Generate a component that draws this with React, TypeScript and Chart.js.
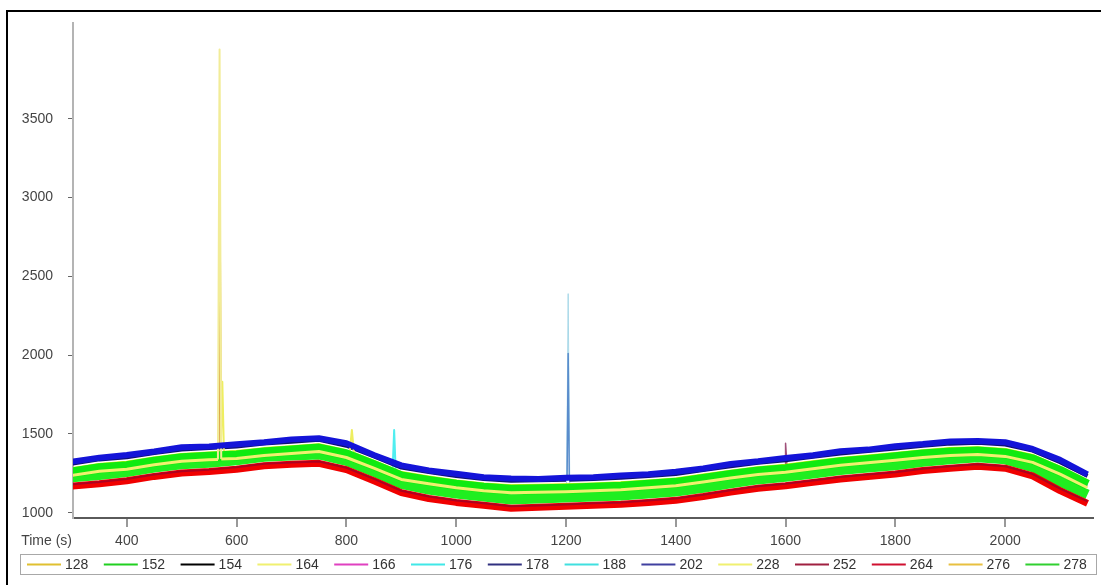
import React, { useEffect, useRef } from "react";
import { Chart, registerables } from "chart.js";

Chart.register(...registerables);

// ---------- data ----------
const TIME = [
  300, 350, 400, 450, 500, 550, 600, 650, 700, 750, 800, 850, 900, 950, 1000, 1050, 1100, 1150, 1200,
  1250, 1300, 1350, 1400, 1450, 1500, 1550, 1600, 1650, 1700, 1750, 1800, 1850, 1900, 1950, 2000,
  2050, 2100, 2150,
];

const S202 = [1323, 1348, 1366, 1388, 1415, 1420, 1434, 1447, 1465, 1472, 1440, 1366, 1300, 1268, 1247, 1224, 1216, 1214, 1222, 1224, 1236, 1243, 1259, 1280, 1309, 1326, 1347, 1364, 1390, 1400, 1422, 1435, 1452, 1454, 1447, 1404, 1335, 1243];
const S178 = [1311, 1338, 1351, 1379, 1401, 1410, 1419, 1438, 1450, 1463, 1425, 1357, 1286, 1258, 1233, 1214, 1202, 1205, 1208, 1214, 1221, 1233, 1245, 1270, 1295, 1317, 1332, 1354, 1376, 1391, 1407, 1425, 1438, 1444, 1432, 1394, 1320, 1233];
const S228 = [1273, 1300, 1313, 1341, 1363, 1372, 1381, 1400, 1412, 1425, 1387, 1319, 1248, 1220, 1195, 1176, 1164, 1167, 1170, 1176, 1183, 1195, 1207, 1232, 1257, 1279, 1294, 1316, 1338, 1353, 1369, 1387, 1400, 1406, 1394, 1356, 1282, 1195];
const S152 = [1255, 1282, 1295, 1323, 1345, 1354, 1363, 1382, 1394, 1407, 1369, 1301, 1230, 1202, 1177, 1158, 1146, 1149, 1152, 1158, 1165, 1177, 1189, 1214, 1239, 1261, 1276, 1298, 1320, 1335, 1351, 1369, 1382, 1388, 1376, 1338, 1264, 1177];
const S164 = [1236, 1263, 1276, 1304, 1326, 1335, 1344, 1363, 1375, 1388, 1350, 1282, 1211, 1183, 1158, 1139, 1127, 1130, 1133, 1139, 1146, 1158, 1170, 1195, 1220, 1242, 1257, 1279, 1301, 1316, 1332, 1350, 1363, 1369, 1357, 1319, 1245, 1158];
const S278 = [1224, 1239, 1258, 1286, 1307, 1317, 1332, 1354, 1363, 1369, 1329, 1258, 1183, 1146, 1121, 1103, 1084, 1090, 1096, 1103, 1109, 1121, 1134, 1158, 1186, 1211, 1227, 1248, 1270, 1286, 1301, 1323, 1338, 1351, 1338, 1289, 1196, 1115];
const S252 = [1180, 1195, 1214, 1242, 1263, 1273, 1288, 1310, 1319, 1325, 1285, 1214, 1139, 1102, 1077, 1059, 1040, 1046, 1052, 1059, 1065, 1077, 1090, 1114, 1142, 1167, 1183, 1204, 1226, 1242, 1257, 1279, 1294, 1307, 1294, 1245, 1152, 1071];
const S264 = [1168, 1183, 1202, 1230, 1251, 1261, 1276, 1298, 1307, 1313, 1273, 1202, 1127, 1090, 1065, 1047, 1028, 1034, 1040, 1047, 1053, 1065, 1078, 1102, 1130, 1155, 1171, 1192, 1214, 1230, 1245, 1267, 1282, 1295, 1282, 1233, 1140, 1059];
const BAND_MID = S152;

// short spikes: [time, value]
const SPIKE_164 = [[566, 1338], [569, 3940], [572, 1340]];
const SPIKE_128 = [[568, 1358], [570, 2800], [572, 1358]];
const SPIKE_228 = [[571, 1376], [574, 1830], [577, 1377], [806, 1379], [810, 1525], [814, 1368]];
const SPIKE_176 = [[884, 1253], [887, 1525], [890, 1244]];
const SPIKE_188 = [[1201, 1152], [1204, 2390], [1207, 1152]];
const SPIKE_178 = [[1202, 1208], [1204, 2010], [1206, 1208]];
const SPIKE_166 = [[1597, 1276], [1600, 1440], [1603, 1276]];

const SERIES_IDS = ["128", "152", "154", "164", "166", "176", "178", "188", "202", "228", "252", "264", "276", "278"];
const LEGEND_COLORS = ["#e0c030", "#20d020", "#000000", "#f0f070", "#e040c0", "#40e8e8", "#303080", "#40e0e0", "#4040a0", "#f0f070", "#a02040", "#d01030", "#e8c040", "#30d030"];

const X_TICKS = [400, 600, 800, 1000, 1200, 1400, 1600, 1800, 2000];
const Y_TICKS = [1000, 1500, 2000, 2500, 3000, 3500];
const X_TITLE = "Time (s)";

const FONT = "'Liberation Sans', Arial, sans-serif";
const FS = 14;

function pts(vals: number[], extra: number[][] = []) {
  const p = TIME.map((t, i) => ({ x: t, y: vals[i] }));
  for (const [x, y] of extra) p.push({ x, y });
  p.sort((a, b) => a.x - b.x);
  return p;
}

const decor = {
  id: "decor",
  afterDraw(chart: any) {
    const ctx = chart.ctx;
    const W = chart.width;
    const H = chart.height;
    ctx.save();
    // outer frame
    ctx.fillStyle = "#000";
    ctx.fillRect(6, 10, 2, H - 10);
    ctx.fillRect(6, 10, W - 6, 2);

    // axis title at left of tick labels
    ctx.fillStyle = "#444";
    ctx.font = FS + "px " + FONT;
    ctx.textAlign = "right";
    ctx.textBaseline = "middle";
    ctx.fillText(X_TITLE, chart.chartArea.left - 1, chart.chartArea.bottom + 23);

    // legend
    const top = H - 31;
    ctx.fillStyle = "#fff";
    ctx.fillRect(20, top, W - 24, 20);
    ctx.strokeStyle = "#a8a8a8";
    ctx.lineWidth = 1;
    ctx.strokeRect(20.5, top + 0.5, W - 25, 20);
    const cy = top + 10.5;
    const step = 76.8;
    SERIES_IDS.forEach((id, i) => {
      const x0 = 27 + i * step;
      ctx.strokeStyle = LEGEND_COLORS[i];
      ctx.lineWidth = 2;
      ctx.beginPath();
      ctx.moveTo(x0, cy);
      ctx.lineTo(x0 + 34, cy);
      ctx.stroke();
      ctx.fillStyle = "#333";
      ctx.textAlign = "left";
      ctx.fillText(id, x0 + 38, cy + 0.5);
    });
    ctx.restore();
  },
};

export default function App() {
  const ref = useRef<HTMLCanvasElement | null>(null);

  useEffect(() => {
    document.body.style.margin = "0";
    const canvas = ref.current;
    if (!canvas) return;

    const mk = (
      label: string,
      vals: number[],
      color: string,
      width: number,
      order: number,
      extra: number[][] = [],
      spikeWidth = 2,
      spikeColor?: string
    ) => ({
      label,
      data: pts(vals, extra),
      borderColor: color,
      backgroundColor: color,
      borderWidth: width,
      order,
      pointRadius: 0,
      tension: 0,
      fill: false,
      borderJoinStyle: "round" as const,
      segment: {
        borderWidth: (c: any) => (c.p1.parsed.x - c.p0.parsed.x < 10 ? spikeWidth : undefined),
        borderColor: (c: any) => (spikeColor && c.p1.parsed.x - c.p0.parsed.x < 10 ? spikeColor : undefined),
      },
    });

    const datasets = [
      mk(SERIES_IDS[0], BAND_MID, "#dcb830", 2, 12, SPIKE_128, 1.5, "#d8a040"),
      mk(SERIES_IDS[1], S152, "#10ea10", 10, 4),
      mk(SERIES_IDS[2], BAND_MID, "#000000", 1, 14),
      mk(SERIES_IDS[3], S164, "#f0f070", 3, 3, SPIKE_164, 2, "#f2ec98"),
      mk(SERIES_IDS[4], BAND_MID, "#e030d0", 1.5, 11, SPIKE_166, 1.5, "#a0507a"),
      mk(SERIES_IDS[5], BAND_MID, "#30e8e8", 2, 9, SPIKE_176, 2, "#50eef0"),
      mk(SERIES_IDS[6], S178, "#101070", 4, 8, SPIKE_178, 1.5, "#5a8ccc"),
      mk(SERIES_IDS[7], BAND_MID, "#70e0f0", 1, 10, SPIKE_188, 1, "#a8d8e8"),
      mk(SERIES_IDS[8], S202, "#1414d8", 6, 1),
      mk(SERIES_IDS[9], S228, "#e4f000", 5, 6, SPIKE_228, 2, "#eeee60"),
      mk(SERIES_IDS[10], S252, "#b00020", 2, 2),
      mk(SERIES_IDS[11], S264, "#f00000", 7, 2.5),
      mk(SERIES_IDS[12], BAND_MID, "#e8b800", 2, 13),
      mk(SERIES_IDS[13], S278, "#20ee20", 10, 5),
    ];

    const chart = new Chart(canvas, {
      type: "line",
      data: { datasets: datasets as any },
      plugins: [decor],
      options: {
        animation: false,
        responsive: false,
        devicePixelRatio: 1,
        layout: { padding: { left: 0, right: 8, top: 12, bottom: 37 } },
        font: { family: FONT, size: FS },
        plugins: {
          tooltip: { enabled: false },
          legend: { display: false },
        },
        scales: {
          x: {
            type: "linear",
            min: 302,
            max: 2160,
            afterFit: (s: any) => { s.height = 30; },
            afterBuildTicks: (s: any) => { s.ticks = X_TICKS.map((v) => ({ value: v })); },
            ticks: {
              color: "#444",
              padding: 6,
              font: { family: FONT, size: FS },
              callback: (v: any) => String(v),
              maxRotation: 0,
              autoSkip: false,
            },
            grid: { drawOnChartArea: false, drawTicks: true, tickLength: 9, color: "#999", lineWidth: 2 },
            border: { display: true, color: "#5a5a5a", width: 2 },
          },
          y: {
            type: "linear",
            min: 966,
            max: 4105,
            afterFit: (s: any) => { s.width = 73; },
            afterBuildTicks: (s: any) => { s.ticks = Y_TICKS.map((v) => ({ value: v })); },
            ticks: {
              color: "#444",
              padding: 15,
              font: { family: FONT, size: FS },
              callback: (v: any) => String(v),
              autoSkip: false,
            },
            grid: { drawOnChartArea: false, drawTicks: true, tickLength: 5, color: "#666", lineWidth: 1 },
            border: { display: true, color: "#b4b4b4", width: 2 },
          },
        },
      } as any,
    });

    return () => chart.destroy();
  }, []);

  return (
    <div style={{ width: 1101, height: 585, background: "#fff" }}>
      <canvas ref={ref} width={1101} height={585} style={{ display: "block" }} />
    </div>
  );
}
